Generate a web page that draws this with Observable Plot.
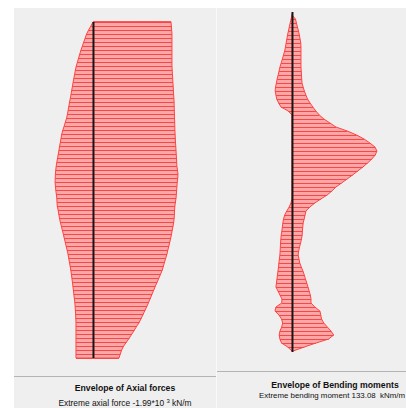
<!DOCTYPE html>
<html><head><meta charset="utf-8">
<script src="https://cdn.jsdelivr.net/npm/d3@7"></script>
<script src="https://cdn.jsdelivr.net/npm/@observablehq/plot@0.6"></script>
<style>
body{margin:0;background:#fff;}
#wrap{position:relative;width:406px;height:408px;overflow:hidden;font-family:"Liberation Sans",Arial,sans-serif;color:#111;}
.panel{position:absolute;background:#efefef;}
.sep{position:absolute;height:1px;background:#b4b4b4;}
.txt{position:absolute;white-space:nowrap;line-height:1;}
.title{font-weight:bold;font-size:8.7px;text-align:center;}
.sub{font-size:8.4px;}
.chart{position:absolute;}
</style></head><body>
<div id="wrap">
  <div class="panel" style="left:14px;top:8px;width:202px;height:400px;"></div>
  <div class="panel" style="left:217px;top:8px;width:189px;height:400px;"></div>
  <div style="position:absolute;left:216px;top:8px;width:1px;height:400px;background:#f9f9f9;"></div>
  <div class="sep" style="left:14px;top:376px;width:202px;"></div>
  <div class="sep" style="left:217px;top:371px;width:189px;"></div>
  <div id="left" class="chart" style="left:14px;top:8px;"></div>
  <div id="right" class="chart" style="left:217px;top:8px;"></div>
  <div id="t1" class="txt title" style="left:25px;width:200px;top:384px;"></div>
  <div id="s1" class="txt sub" style="left:25px;width:200px;top:398px;text-align:center;"></div>
  <div id="t2" class="txt title" style="left:235px;width:200px;top:381px;"></div>
  <div id="s2" class="txt sub" style="left:259px;top:392px;font-size:7.9px;"></div>
</div>
<script>
// Envelope of axial forces (kN/m), one value per node from top to bottom
const axialMax = [0,47,103,150,183,215,248,281,309,337,363,391,412,428,447,464,480,496,513,529,
  548,564,581,597,616,646,674,705,730,747,763,780,796,812,829,845,861,871,880,883,
  887,880,871,859,847,843,836,817,801,784,766,742,719,695,674,651,630,606,585,569,
  552,536,520,506,494,482,471,459,449,438,426,419,412,407,403,398,398,398,398,398,
  398,398,398,398,398];
const axialMin = [-1826,-1835,-1842,-1849,-1849,-1849,-1849,-1849,-1849,-1849,-1849,-1849,-1854,-1859,-1866,-1870,-1877,-1882,-1887,-1894,
  -1899,-1901,-1903,-1906,-1908,-1913,-1915,-1917,-1922,-1927,-1931,-1938,-1943,-1948,-1955,-1959,-1964,-1978,-1990,-1985,
  -1973,-1966,-1959,-1952,-1945,-1931,-1917,-1910,-1906,-1901,-1891,-1875,-1856,-1840,-1821,-1798,-1777,-1753,-1732,-1704,
  -1676,-1650,-1622,-1585,-1543,-1503,-1461,-1424,-1384,-1346,-1306,-1266,-1222,-1177,-1133,-1086,-1028,-969,-911,-850,
  -784,-719,-672,-639,-609];
// Envelope of bending moments (kNm/m)
const momentMin = [0,-1.4,-2.8,-4.2,-5.6,-6.9,-8.0,-9.1,-10.2,-11.4,-13.3,-15.0,-16.9,-18.8,-20.2,-21.6,-23.2,-24.4,-25.7,-26.3,
  -25.1,-23.8,-20.8,-17.2,-5.8,0,0,0,0,0,0,0,0,0,0,0,0,0,0,0,
  0,0,0,0,0,0,0,-1.6,-4.4,-8.1,-11.4,-13.2,-14.3,-15.0,-15.8,-16.8,-17.4,-17.9,-18.2,-18.5,
  -18.9,-19.7,-20.5,-21.1,-21.9,-22.7,-23.5,-24.3,-25.1,-21.9,-18.8,-15.7,-16.0,-25.1,-26.6,-20.4,-16.3,-14.6,-16.1,-18.8,
  -20.0,-18.9,-16.3,-6.7,0];
const momentMax = [0,5.5,7.0,8.6,10.2,11.6,12.7,13.8,14.1,14.1,14.1,14.1,14.1,14.1,14.5,14.9,15.3,15.7,17.5,19.4,
  21.8,24.4,28.3,32.7,37.4,42.8,50.1,59.5,68.9,86.6,101.3,112.9,122.0,130.0,133.08,130.4,125.1,118.4,111.2,103.0,
  94.9,86.4,77.7,68.9,62.6,55.1,45.3,35.7,28.2,21.9,20.5,19.1,17.5,16.9,16.4,16.0,14.9,13.5,11.9,10.5,
  9.7,11.0,12.2,14.6,17.2,19.3,21.1,23.2,25.1,26.9,28.8,29.8,29.8,35.9,43.8,45.1,46.4,49.8,55.4,61.1,
  65.3,57.5,37.7,19.4,1.6];

const titles = ["Envelope of Axial forces", "Envelope of Bending moments"];
const extremeAxial = ["-1.99*10", "3", "kN/m"];
const extremeMoment = ["133.08", "kNm/m"];

const FILL = "#f7a9a9", LINE = "#ff4444";
const axialRows = axialMax.map((v, i) => ({node: i, hi: v, lo: axialMin[i]}));
const momentRows = momentMax.map((v, i) => ({node: i, hi: v, lo: momentMin[i]}));
const last = axialRows.length - 1;

function envelope(rows, xDomain, w, h, yRange, axisY) {
  return Plot.plot({
    width: w, height: h, margin: 0,
    style: {background: "transparent", overflow: "visible"},
    x: {domain: xDomain, range: [0, w], axis: null},
    y: {domain: [0, last], range: yRange, axis: null},
    marks: [
      Plot.areaX(rows, {y: "node", x1: "lo", x2: "hi", fill: FILL, stroke: LINE, strokeWidth: 1}),
      Plot.ruleY(rows, {y: "node", x1: "lo", x2: "hi", stroke: LINE, strokeWidth: 1}),
      Plot.ruleX([0], {y1: axisY[0], y2: axisY[1], stroke: "#151515", strokeWidth: 2})
    ]
  });
}

document.getElementById("left").append(
  envelope(axialRows, [1849, -2880], 202, 368, [14, 350], [0, last]));
document.getElementById("right").append(
  envelope(momentRows, [-117.4, 178.6], 189, 363, [7, 343], [-0.75, last + 0.25]));

document.getElementById("t1").textContent = titles[0];
document.getElementById("t2").textContent = titles[1];
document.getElementById("s1").innerHTML = "Extreme axial force " + extremeAxial[0] +
  " <sup style='font-size:6px;vertical-align:3px'>" + extremeAxial[1] + "</sup> " + extremeAxial[2];
document.getElementById("s2").innerHTML = "Extreme bending moment " + extremeMoment[0] + "&nbsp; " + extremeMoment[1];
</script>
</body></html>
